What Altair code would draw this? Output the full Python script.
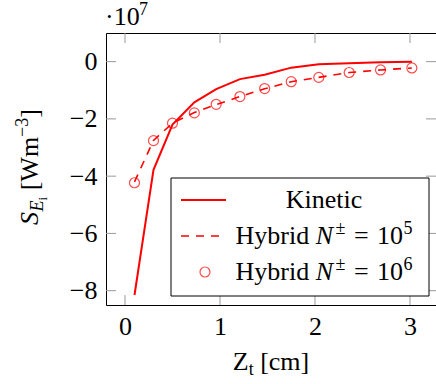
import altair as alt
import pandas as pd

# ---- data ----
z_cm = [0.1, 0.3, 0.5, 0.73, 0.96, 1.21, 1.47, 1.75, 2.04, 2.36, 2.69, 3.02]
kinetic = [-8.15, -3.78, -2.2, -1.42, -0.96, -0.61, -0.46, -0.21, -0.09, -0.06, -0.02, 0.0]
hybrid_1e5 = [-4.2, -2.75, -2.15, -1.78, -1.5, -1.22, -0.95, -0.7, -0.55, -0.38, -0.29, -0.22]
hybrid_1e6 = [-4.23, -2.76, -2.15, -1.79, -1.49, -1.22, -0.94, -0.70, -0.55, -0.38, -0.29, -0.22]
x_ticks = [0, 1, 2, 3]
y_ticks = [0, -2, -4, -6, -8]

RED = "#ff0000"
FONT = "Times New Roman, Liberation Serif, Tinos, serif"
F = 26
S1 = 18
S2 = 13
W_PLOT, H_PLOT = 330, 272
NB = "\u00a0"

df_k = pd.DataFrame({"z": z_cm, "v": kinetic})
df_h5 = pd.DataFrame({"z": z_cm, "v": hybrid_1e5})
df_h6 = pd.DataFrame({"z": z_cm, "v": hybrid_1e6})
df_xt = pd.DataFrame({"xt": x_ticks})
df_yt = pd.DataFrame({"yt": y_ticks})
one = pd.DataFrame({"a": [0]})

xs = alt.Scale(domain=[-0.2, 3.274], nice=False, zero=False)
ys = alt.Scale(domain=[-8.5, 1.0], nice=False, zero=False)
xaxis = alt.Axis(values=x_ticks, format="d", title=None, grid=False, domain=False,
                 ticks=False, tickSize=0, labelFont=FONT, labelFontSize=F,
                 labelColor="black", labelPadding=29, labelBaseline="alphabetic")
yaxis = alt.Axis(values=y_ticks, format="d", title=None, grid=False, domain=False,
                 ticks=False, tickSize=0, labelFont=FONT, labelFontSize=F,
                 labelColor="black", labelPadding=9)

X = lambda f: alt.X(f, scale=xs, axis=xaxis)
Y = lambda f: alt.Y(f, scale=ys, axis=yaxis)

line_k = alt.Chart(df_k).mark_line(color=RED, strokeWidth=2).encode(x=X("z:Q"), y=Y("v:Q"))
line_h5 = alt.Chart(df_h5).mark_line(color=RED, strokeWidth=1.6, strokeDash=[8, 7]).encode(
    x=X("z:Q"), y=Y("v:Q"))
pts_h6 = alt.Chart(df_h6).mark_point(shape="circle", filled=False, color=RED, size=100,
                                     strokeWidth=1.2).encode(x=X("z:Q"), y=Y("v:Q"))

TICK = dict(color="#999999", strokeWidth=1)
tl = 10
t_bottom = alt.Chart(df_xt).mark_rule(**TICK).encode(
    x=X("xt:Q"), y=alt.value(H_PLOT), y2=alt.value(H_PLOT - tl))
t_top = alt.Chart(df_xt).mark_rule(**TICK).encode(
    x=X("xt:Q"), y=alt.value(0), y2=alt.value(tl))
t_left = alt.Chart(df_yt).mark_rule(**TICK).encode(
    y=Y("yt:Q"), x=alt.value(0), x2=alt.value(tl))
t_right = alt.Chart(df_yt).mark_rule(**TICK).encode(
    y=Y("yt:Q"), x=alt.value(W_PLOT), x2=alt.value(W_PLOT - tl))

# Times / Liberation Serif advance widths (per 1000 em)
WID = {"H": 722, "y": 500, "b": 500, "r": 333, "i": 278, "d": 500, " ": 250, NB: 250,
       "N": 667, "±": 564, "=": 564, "0": 500, "1": 500, "3": 500, "5": 500, "6": 500,
       "7": 500, "K": 722, "n": 500, "e": 444, "t": 278, "c": 444, "S": 500, "E": 611,
       "[": 333, "W": 944, "m": 778, "−": 564, "]": 333, "Z": 611, "·": 250}


def wid(s, size):
    return sum(WID.get(ch, 500) for ch in s) * size / 1000.0


def run(pieces, cx, cy, angle=0):
    """pieces: (text, size, style, shift, extra_gap_after)"""
    total = sum(wid(p[0], p[1]) + p[4] for p in pieces)
    layers = []
    cum = -total / 2.0
    for text, size, style, shift, gap in pieces:
        if text:
            if angle == 0:
                px, py = cx + cum, cy + shift
            else:
                px, py = cx + shift, cy - cum
            mk = dict(text=text, font=FONT, fontSize=size, fontStyle=style, color="black",
                      align="left", baseline="alphabetic")
            if angle:
                mk["angle"] = angle
            layers.append(alt.Chart(one).mark_text(**mk).encode(
                x=alt.value(px), y=alt.value(py)))
        cum += wid(text, size) + gap
    return layers


def hybrid_row(exp, cy):
    sup = -0.4 * F
    return run([
        ("Hybrid" + NB, F, "normal", 0, 0),
        ("N", F, "italic", 0, 2.5),
        ("±", S1, "normal", sup, 0.32 * F),
        ("=", F, "normal", 0, 0.32 * F),
        ("10", F, "normal", 0, 0.5),
        (exp, S1, "normal", sup, 0),
    ], cx=218, cy=cy)


# legend
leg_box = alt.Chart(one).mark_rect(fill="white", stroke="black", strokeWidth=1).encode(
    x=alt.value(65), x2=alt.value(323), y=alt.value(145), y2=alt.value(263))
leg_k = alt.Chart(one).mark_rule(color=RED, strokeWidth=2).encode(
    x=alt.value(75), x2=alt.value(120), y=alt.value(167))
leg_h5 = alt.Chart(one).mark_rule(color=RED, strokeWidth=1.6, strokeDash=[8, 7]).encode(
    x=alt.value(75), x2=alt.value(120), y=alt.value(203))
leg_h6 = alt.Chart(one).mark_point(shape="circle", filled=False, color=RED, size=100,
                                   strokeWidth=1.2).encode(x=alt.value(99), y=alt.value(239))
leg_text = run([("Kinetic", F, "normal", 0, 0)], cx=218, cy=175)
leg_text += hybrid_row("5", 211)
leg_text += hybrid_row("6", 247)

# axis titles
y_title = run([
    ("S", F, "italic", 0, 0.5),
    ("E", S1, "italic", 0.2 * F, 0),
    ("i", S2, "normal", 0.33 * F, 0.25 * F),
    ("[Wm", F, "normal", 0, 0),
    ("−3", S1, "normal", -0.4 * F, 0),
    ("]", F, "normal", 0, 0),
], cx=-68, cy=134, angle=270)

x_title = run([
    ("Z", F, "normal", 0, 0),
    ("t", S1, "normal", 0.2 * F, 0.25 * F),
    ("[cm]", F, "normal", 0, 0),
], cx=165, cy=337)

exp_txt = [
    alt.Chart(one).mark_text(text="·10", font=FONT, fontSize=F, color="black",
                             align="left", baseline="alphabetic").encode(
        x=alt.value(-1), y=alt.value(-8)),
    alt.Chart(one).mark_text(text="7", font=FONT, fontSize=S1, color="black",
                             align="left", baseline="alphabetic").encode(
        x=alt.value(33), y=alt.value(-18.5)),
]

chart = alt.layer(
    t_bottom, t_top, t_left, t_right,
    line_k, line_h5, pts_h6,
    leg_box, leg_k, leg_h5, leg_h6,
    *leg_text, *y_title, *x_title, *exp_txt,
).properties(
    width=W_PLOT, height=H_PLOT,
    autosize=alt.AutoSizeParams(type="none"),
    padding={"left": 106, "top": 33, "right": 0, "bottom": 79},
    background="white",
).configure_view(stroke="black", strokeWidth=1)

chart.save("out.html", embed_options={"renderer": "svg", "actions": False})
